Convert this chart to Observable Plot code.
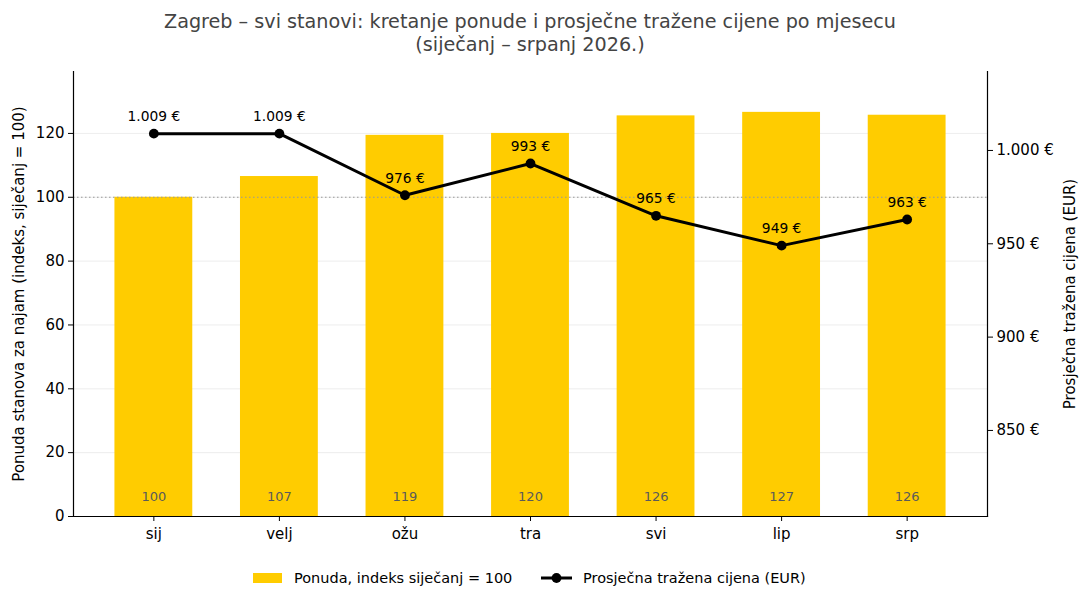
<!DOCTYPE html>
<html>
<head>
<meta charset="utf-8">
<script src="https://cdn.jsdelivr.net/npm/d3@7"></script>
<script src="https://cdn.jsdelivr.net/npm/@observablehq/plot@0.6"></script>
<style>
  html, body { margin: 0; padding: 0; background: #fff; }
  body { width: 1089px; height: 602px; position: relative; overflow: hidden; font-family: "DejaVu Sans", sans-serif; }
  #title { position: absolute; left: 0; top: 10px; width: 1060px; text-align: center; color: #444; font-size: 19.2px; line-height: 23px; }
  #chart { position: absolute; left: 0; top: 60px; }
  #legend { position: absolute; top: 568px; left: 0; width: 1089px; font-size: 14.5px; color: #000; }
  .item { position: absolute; top: 0; display: flex; align-items: center; height: 20px; }
</style>
</head>
<body>
<div id="title">Zagreb – svi stanovi: kretanje ponude i prosječne tražene cijene po mjesecu<br>(siječanj – srpanj 2026.)</div>
<div id="chart"></div>
<div id="legend">
  <div class="item" style="left:253px"><svg width="30" height="20"><rect x="0" y="5" width="29" height="10" fill="#FFCC00"></rect></svg><span style="margin-left:11px">Ponuda, indeks siječanj = 100</span></div>
  <div class="item" style="left:541px"><svg width="32" height="20"><line x1="0" y1="10" x2="31" y2="10" stroke="#000" stroke-width="3"></line><circle cx="15.5" cy="10" r="4.9" fill="#000"></circle></svg><span style="margin-left:10px">Prosječna tražena cijena (EUR)</span></div>
</div>
<script>
const months = ["sij", "velj", "ožu", "tra", "svi", "lip", "srp"];
const supplyIndex = [100, 106.5, 119.4, 120.0, 125.5, 126.6, 125.7];
const avgPrice = [1009, 1009, 976, 993, 965, 949, 963];
const leftTicks = [0, 20, 40, 60, 80, 100, 120];
const rightTicks = [850, 900, 950, 1000];
const leftDomain = [0, 139.4];
const rightDomain = [803.9, 1042.3];
const baseline = 100;

const toL = v => (v - rightDomain[0]) / (rightDomain[1] - rightDomain[0]) * (leftDomain[1] - leftDomain[0]) + leftDomain[0];
const fromL = l => (l - leftDomain[0]) / (leftDomain[1] - leftDomain[0]) * (rightDomain[1] - rightDomain[0]) + rightDomain[0];
const loc = d3.formatLocale({decimal: ",", thousands: ".", grouping: [3], currency: ["", " €"]});
const eur = v => loc.format(",.0f")(v) + " €";

const data = months.map((m, i) => ({month: m, supply: supplyIndex[i], price: avgPrice[i], priceL: toL(avgPrice[i])}));

const chart = Plot.plot({
  width: 1089,
  height: 500,
  marginTop: 11,
  marginBottom: 44,
  marginLeft: 73,
  marginRight: 102,
  style: {fontFamily: "DejaVu Sans, sans-serif", fontSize: "15px", color: "#000", background: "#fff"},
  x: {domain: months, paddingInner: 0.38, paddingOuter: 0.33, round: false, label: null},
  y: {domain: leftDomain, label: null},
  marks: [
    Plot.ruleY(leftTicks, {stroke: "#e8e8e8", strokeWidth: 0.8}),
    Plot.barY(data, {x: "month", y: "supply", fill: "#FFCC00"}),
    Plot.text(data, {x: "month", y: 0, text: d => d3.format(".0f")(d.supply), dy: -20, fill: "#5a5a5a", fontSize: 13, lineAnchor: "middle"}),
    Plot.ruleY([baseline], {stroke: "#999", strokeWidth: 1.2, strokeDasharray: "1.5,2.5"}),
    Plot.line(data, {x: "month", y: "priceL", stroke: "#000", strokeWidth: 3}),
    Plot.dot(data, {x: "month", y: "priceL", r: 4.9, fill: "#000", stroke: null}),
    Plot.text(data, {x: "month", y: "priceL", text: d => eur(d.price), dy: -17, fill: "#000", fontSize: 13.8, lineAnchor: "middle"}),
    Plot.axisX({tickSize: 5, tickPadding: 7, fontSize: 15, label: null, anchor: "bottom"}),
    Plot.axisY(leftTicks, {anchor: "left", tickSize: 5, tickPadding: 4, fontSize: 15, label: "Ponuda stanova za najam (indeks, siječanj = 100)", labelAnchor: "center", labelArrow: "none", labelOffset: 60}),
    Plot.axisY(rightTicks.map(toL), {anchor: "right", tickSize: 5, tickPadding: 4, fontSize: 15, tickFormat: l => eur(Math.round(fromL(l))), label: "Prosječna tražena cijena (EUR)", labelAnchor: "center", labelArrow: "none", labelOffset: 87}),
    Plot.frame({anchor: "left", stroke: "#000", strokeWidth: 1.2}),
    Plot.frame({anchor: "right", stroke: "#000", strokeWidth: 1.2}),
    Plot.frame({anchor: "bottom", stroke: "#000", strokeWidth: 1.2})
  ]
});
document.getElementById("chart").appendChild(chart);
</script>
</body>
</html>
